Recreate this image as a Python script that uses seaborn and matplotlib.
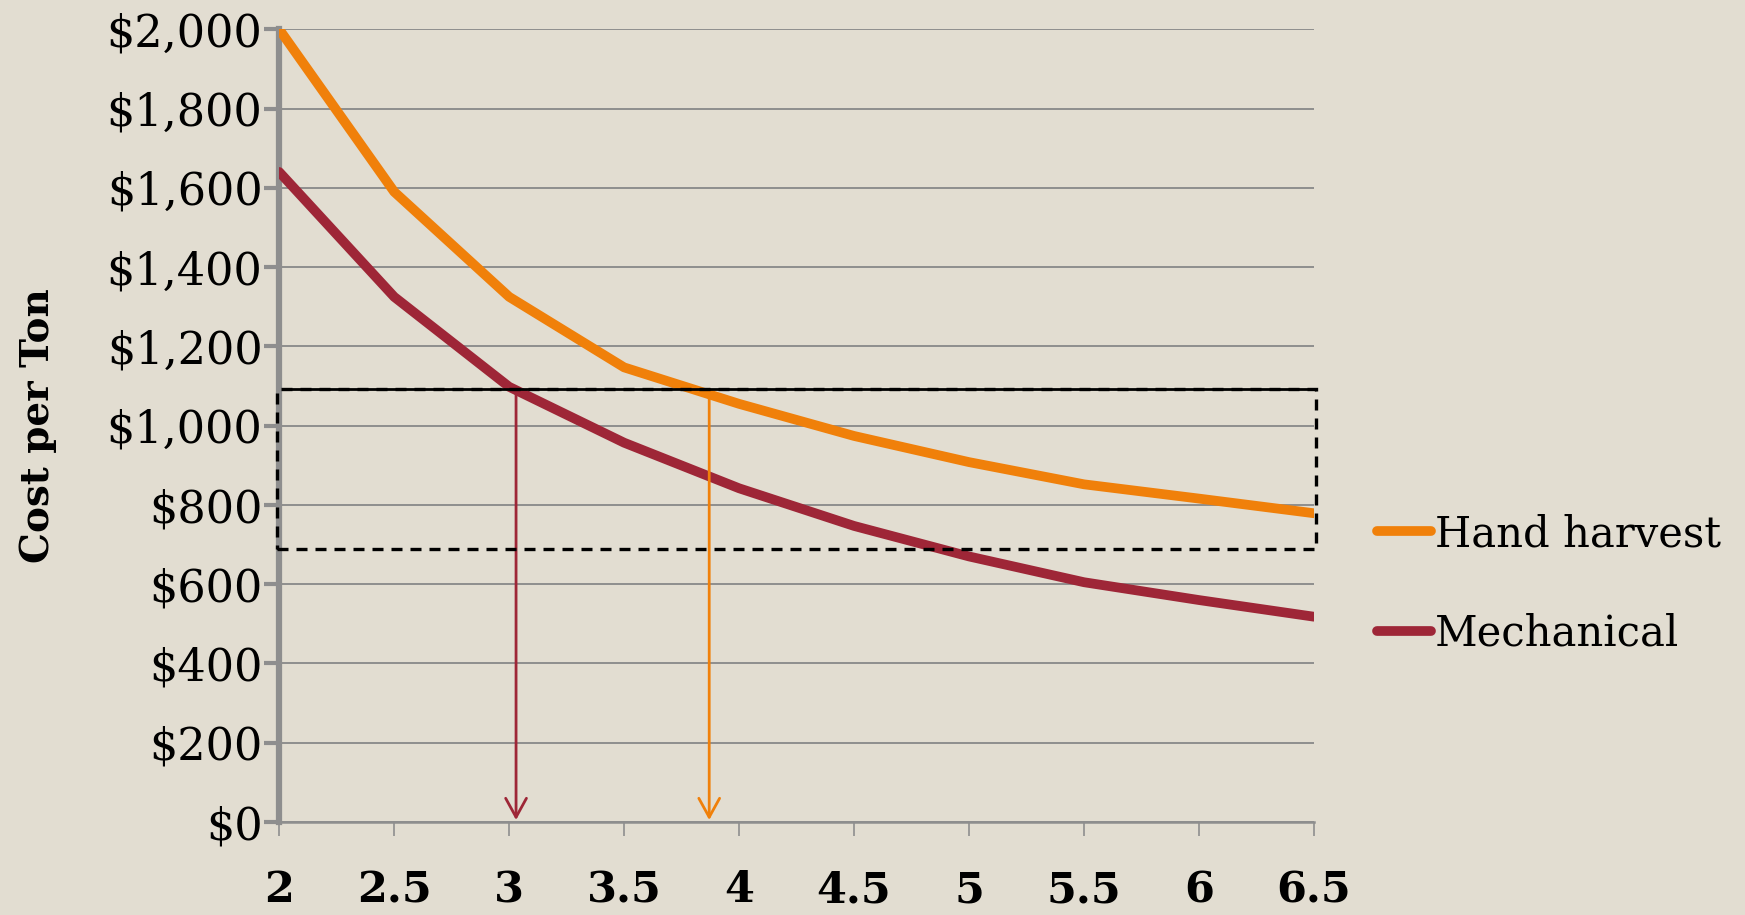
import pandas as pd
import seaborn as sns
import matplotlib.pyplot as plt
from matplotlib.patches import Rectangle
from matplotlib.ticker import FuncFormatter

# values
yield_tons = [2, 2.5, 3, 3.5, 4, 4.5, 5, 5.5, 6, 6.5]
hand_harvest = [2000, 1590, 1325, 1147, 1055, 974, 908, 852, 816, 779]
mechanical = [1640, 1325, 1098, 957, 842, 747, 670, 605, 560, 518]
series_names = ["Hand harvest", "Mechanical"]

target_cost = 1092
box_low = 689
mech_breakeven = 3.03
hand_breakeven = 3.87

BG = "#E2DDD1"
ORANGE = "#F0800A"
RED = "#9E2637"
GRID = "#8E8E8E"


def main():
    df = pd.DataFrame({
        "yield": yield_tons * 2,
        "cost": hand_harvest + mechanical,
        "series": [series_names[0]] * len(yield_tons) + [series_names[1]] * len(yield_tons),
    })

    sns.set_theme(style="white")
    plt.rcParams["font.family"] = ["DejaVu Serif"]
    plt.rcParams["text.color"] = "black"
    plt.rcParams["axes.labelcolor"] = "black"
    plt.rcParams["xtick.labelcolor"] = "black"
    plt.rcParams["ytick.labelcolor"] = "black"

    fig = plt.figure(figsize=(17.45, 9.15), dpi=100, facecolor=BG)
    ax = fig.add_axes([0.16, 0.1016, 0.593, 0.8664])
    ax.set_facecolor(BG)

    sns.lineplot(data=df, x="yield", y="cost", hue="series",
                 palette={series_names[0]: ORANGE, series_names[1]: RED},
                 linewidth=7, ax=ax, zorder=3)

    ax.set_xlim(2, 6.5)
    ax.set_ylim(0, 2000)
    ax.set_xticks(yield_tons)
    ax.set_xticklabels([f"{v:g}" for v in yield_tons], fontsize=31, fontweight="bold")
    ax.set_yticks(range(0, 2001, 200))
    ax.yaxis.set_major_formatter(FuncFormatter(lambda v, p: f"${v:,.0f}"))
    ax.tick_params(axis="y", labelsize=32, length=11, width=3, color=GRID, pad=1, left=True)
    ax.tick_params(axis="x", length=10, width=1.2, color=GRID, pad=24, bottom=True)
    ax.grid(axis="y", color=GRID, lw=1.4)
    ax.set_axisbelow(True)

    for s in ["top", "right"]:
        ax.spines[s].set_visible(False)
    ax.spines["left"].set_color(GRID)
    ax.spines["left"].set_linewidth(4.5)
    ax.spines["bottom"].set_color(GRID)
    ax.spines["bottom"].set_linewidth(1.8)

    ax.set_xlabel("")
    ax.set_ylabel("Cost per Ton", fontsize=28, fontweight="bold", labelpad=36)

    # break-even arrows
    for xv, col in [(mech_breakeven, RED), (hand_breakeven, ORANGE)]:
        ax.annotate("", xy=(xv, 5), xytext=(xv, target_cost),
                    arrowprops=dict(arrowstyle="->, head_length=0.4, head_width=0.22",
                                    color=col, lw=2, mutation_scale=34,
                                    shrinkA=0, shrinkB=0), zorder=4)

    # dashed target box
    ax.add_patch(Rectangle((1.99, box_low), 4.52, target_cost - box_low, fill=False,
                           ec="black", lw=2.4, ls=(0, (3.3, 2.4)), clip_on=False, zorder=5))
    ax.plot([2.03, 6.51], [target_cost, target_cost], color="black", lw=2,
            clip_on=False, zorder=5)

    sns.move_legend(ax, "center left", bbox_to_anchor=(0.789, 0.362),
                    bbox_transform=fig.transFigure, frameon=False, title=None,
                    fontsize=30, handlelength=1.3, handletextpad=0.1, labelspacing=1.38,
                    borderpad=0, borderaxespad=0)

    plt.savefig("out.png", dpi=100, facecolor=BG)
    plt.close()


if __name__ == "__main__":
    main()
